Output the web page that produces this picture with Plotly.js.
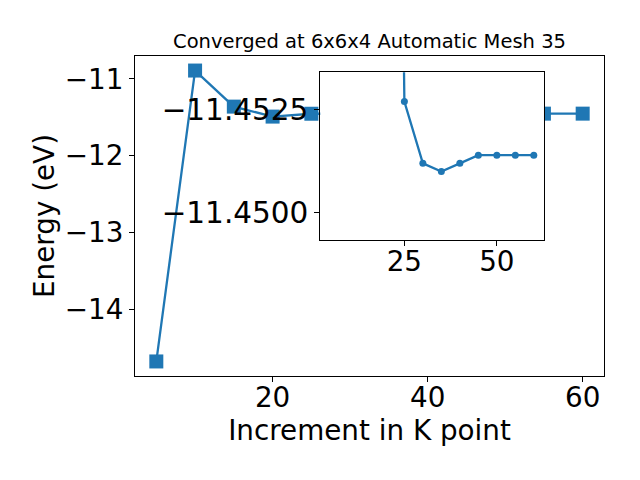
<!DOCTYPE html>
<html>
<head>
<meta charset="utf-8">
<script src="https://cdn.plot.ly/plotly-3.0.1.min.js"></script>
<style>html,body{margin:0;padding:0;background:#fff;}#chart{width:640px;height:480px;}</style>
</head>
<body>
<div id="chart"></div>
<script>
const kpoints = [5, 10, 15, 20, 25, 30, 35, 40, 45, 50, 55, 60];
const energy = [-14.68, -10.89, -11.36, -11.49, -11.4527, -11.4512, -11.4510, -11.4512, -11.4514, -11.4514, -11.4514, -11.4514];
// inset shows the data from K = 20 onward
const insetStart = 3;
const insetK = kpoints.slice(insetStart);
const insetEnergy = energy.slice(insetStart);
const mainYTicks = [-11, -12, -13, -14];
const mainXTicks = [20, 40, 60];
const insetYTicks = [-11.4525, -11.4500];
const insetXTicks = [25, 50];

const blue = '#1f77b4';
const font = 'DejaVu Sans, sans-serif';

const traces = [
  {
    x: kpoints, y: energy, xaxis: 'x', yaxis: 'y',
    mode: 'lines+markers', type: 'scatter',
    line: {color: blue, width: 2.3},
    marker: {symbol: 'square', size: 14, color: blue},
    cliponaxis: true, showlegend: false
  },
  {
    x: insetK, y: insetEnergy, xaxis: 'x2', yaxis: 'y2',
    mode: 'lines+markers', type: 'scatter',
    line: {color: blue, width: 2.3},
    marker: {symbol: 'circle', size: 7, color: blue},
    cliponaxis: true, showlegend: false
  }
];

const axCommon = {
  showgrid: false, zeroline: false, showline: true, mirror: true,
  linecolor: '#000', linewidth: 1, ticks: 'outside', ticklen: 5, tickwidth: 1,
  tickcolor: '#000', tickfont: {family: font, size: 27.8, color: '#000'}
};

const layout = {
  width: 640, height: 480,
  margin: {l: 135, r: 36, t: 56, b: 104},
  paper_bgcolor: '#fff', plot_bgcolor: '#fff',
  font: {family: font, color: '#000'},
  title: {text: 'Converged at 6x6x4 Automatic Mesh 35', font: {family: font, size: 19.5, color: '#000'},
          x: 0.5, xref: 'paper', y: 1, yref: 'paper', yanchor: 'bottom', pad: {b: 8}},
  xaxis: Object.assign({}, axCommon, {
    domain: [0, 1], range: [2.25, 62.75], tickvals: mainXTicks, ticklabelstandoff: -8,
    title: {text: 'Increment in K point', font: {family: font, size: 27.8, color: '#000'}, standoff: 2}
  }),
  yaxis: Object.assign({}, axCommon, {
    domain: [0, 1], range: [-14.8695, -10.7005], tickvals: mainYTicks,
    title: {text: 'Energy (eV)', font: {family: font, size: 27.8, color: '#000'}, standoff: 2}
  }),
  xaxis2: Object.assign({}, axCommon, {
    domain: [0.395, 0.872], range: [2.25, 62.75], tickvals: insetXTicks, anchor: 'y2', ticklabelstandoff: -8
  }),
  yaxis2: Object.assign({}, axCommon, {
    domain: [0.425, 0.949], range: [-11.44934, -11.45341], tickvals: insetYTicks,
    tickformat: '.4f', anchor: 'x2', tickfont: {family: font, size: 29.5, color: '#000'}
  })
};

Plotly.newPlot('chart', traces, layout, {displayModeBar: false, staticPlot: true});
</script>
</body>
</html>
